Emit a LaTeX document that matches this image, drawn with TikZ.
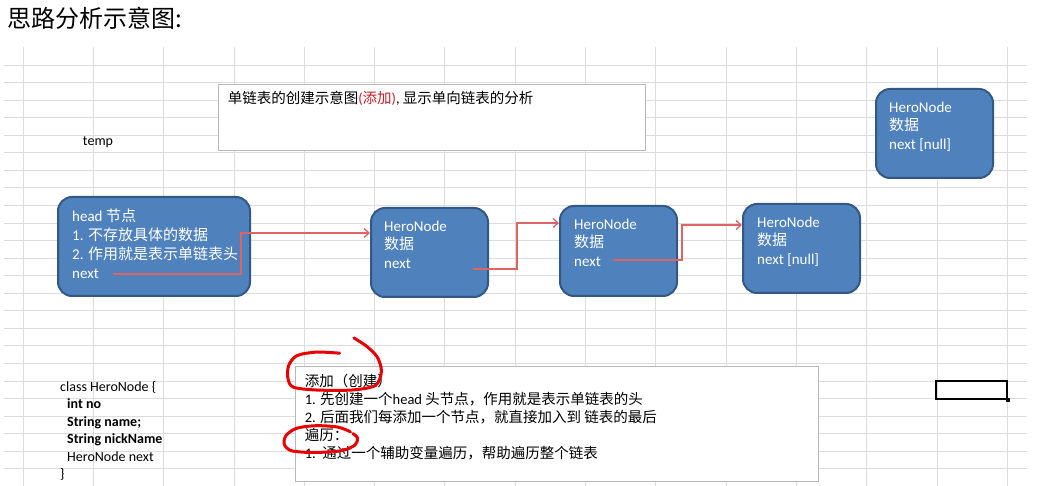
\documentclass[tikz,border=0pt]{standalone}
\usepackage{fontspec}
\setmainfont{Carlito}
\newfontfamily\cjk{Noto Sans CJK SC}
\newcommand{\zh}[1]{{\cjk #1}}
\usetikzlibrary{arrows.meta,positioning}

\definecolor{nodeblue}{RGB}{79,129,189}
\definecolor{nodeedge}{RGB}{52,88,132}
\definecolor{linkred}{RGB}{222,100,100}
\definecolor{gridgray}{RGB}{218,220,224}
\definecolor{inkred}{RGB}{232,0,0}
\definecolor{notered}{RGB}{200,30,40}

\begin{document}
\begin{tikzpicture}[
    x=1pt, y=-1pt,
    hero/.style={rectangle, rounded corners=14pt, draw=nodeedge, line width=2pt,
                 fill=nodeblue, minimum width=117pt, minimum height=89pt},
    herotxt/.style={inner sep=0pt, anchor=north west, align=left, text=white,
                    font=\fontsize{15}{18.5}\selectfont},
    notebox/.style={rectangle, draw=gray!55, fill=white, line width=0.8pt},
    notetxt/.style={inner sep=0pt, anchor=north west, align=left,
                    font=\fontsize{14.5}{18}\selectfont},
    link/.style={-{Straight Barb[length=5pt,width=9pt]}, draw=linkred, line width=1.3pt},
    scrib/.style={draw=inkred, line width=3pt, line cap=round, line join=round},
]
\useasboundingbox (0,0) rectangle (1052,486);

%% -- sheet grid ---------------------------------------------------------------
\foreach \i in {0,...,14}
  \draw[gridgray, line width=0.8pt] ({23+70.3*\i},47) -- ({23+70.3*\i},486);
\foreach \j in {0,...,23}
  \draw[gridgray, line width=0.8pt] (4,{65+17.55*\j}) -- (1027,{65+17.55*\j});

% Title
\node[anchor=west, inner sep=0pt, font=\cjk\fontsize{24}{26}\selectfont] (title) at (7,18) {思路分析示意图:};

% Caption box
\node[notebox, minimum width=427pt, minimum height=66pt] (plan) at (431.5,117) {};
\node[notetxt, below right=7pt and 10pt of plan.north west] (plantxt)
      {\zh{单链表的创建示意图}\textcolor{notered}{(\zh{添加})}, \zh{显示单向链表的分析}};

\node[inner sep=0pt, font=\fontsize{14}{16}\selectfont] (temp) at (98,142) {temp};

%% -- linked list nodes --------------------------------------------------------
\node[hero, minimum width=192pt, minimum height=99pt] (hd) at (154,246.5) {};
\node[herotxt, font=\fontsize{15}{19}\selectfont, below right=13pt and 15pt of hd.north west] (hdtxt)
      {head \zh{节点}\\1. \zh{不存放具体的数据}\\2. \zh{作用就是表示单链表头}\\next};

\node[hero] (n2) at (429.5,252.5) {};
\node[herotxt, below right=13.5pt and 14pt of n2.north west] (n2txt) {HeroNode\\\zh{数据}\\next};

\node[hero, minimum height=90pt] (n3) at (618.5,251) {};
\node[herotxt, below right=13.5pt and 15pt of n3.north west] (n3txt) {HeroNode\\\zh{数据}\\next};

\node[hero] (n4) at (801.5,248.5) {};
\node[herotxt, below right=13.5pt and 15pt of n4.north west] (n4txt) {HeroNode\\\zh{数据}\\next [null]};

\node[hero] (n5) at (934.5,133.5) {};
\node[herotxt, below right=13.5pt and 14pt of n5.north west] (n5txt) {HeroNode\\\zh{数据}\\next [null]};

% next pointers
\coordinate (hd-out) at (113,274);
\coordinate (n2-in)  at ([yshift=19.5pt]n2.west);
\coordinate (n2-out) at (473,269);
\coordinate (n3-in)  at ([yshift=28pt]n3.west);
\coordinate (n3-out) at (613,260);
\coordinate (n4-in)  at ([yshift=23.5pt]n4.west);

\draw[link] (hd-out) -- ++(128,0) |- (n2-in);
\draw[link] (n2-out) -- ++(44,0)  |- (n3-in);
\draw[link] (n3-out) -- ++(69,0)  |- (n4-in);

%% -- class and steps ----------------------------------------------------------
\node[notetxt, font=\fontsize{14}{17.5}\selectfont] (cls) at (60,381)
      {class HeroNode \{\\
       \hspace*{7pt}\textbf{int no}\\
       \hspace*{7pt}\textbf{String name;}\\
       \hspace*{7pt}\textbf{String nickName}\\
       \hspace*{7pt}HeroNode next\\
       \}};

\node[notebox, minimum width=523pt, minimum height=115pt] (steps) at (556.5,423.5) {};
\node[notetxt, below right=8pt and 10pt of steps.north west] (stepstxt)
      {\zh{添加（创建）}\\
       1. \zh{先创建一个}head \zh{头节点，作用就是表示单链表的头}\\
       2. \zh{后面我们每添加一个节点，就直接加入到 链表的最后}\\
       \zh{遍历：}\\
       1.\ \ \zh{通过一个辅助变量遍历，帮助遍历整个链表}};

% hand-drawn marks
\draw[scrib] plot[smooth] coordinates {(339.6,353.2) (316.4,352.1) (296.8,355.7) (288.6,365.7)
      (287.9,378.2) (293.2,387.1) (316.4,390) (352.1,390) (375.4,385.4) (381.4,371.1)
      (377.1,356.8) (366.4,346.1) (353.9,337.9)};
\draw[scrib] plot[smooth] coordinates {(350.4,431.8) (337.9,427.1) (316.4,425.7) (296.8,428.2)
      (286.1,435.4) (284.3,444.3) (291.4,450.7) (312.9,452.5) (341.4,450.7) (355,445)
      (357.5,437.9) (352.9,433.6)};

% selected cell
\node[draw=black, line width=2.2pt, minimum width=71pt, minimum height=18pt, inner sep=0pt] (cell) at (971.5,390) {};
\node[fill=black, minimum size=4pt, inner sep=0pt] (handle) at (cell.south east) {};

\end{tikzpicture}
\end{document}
